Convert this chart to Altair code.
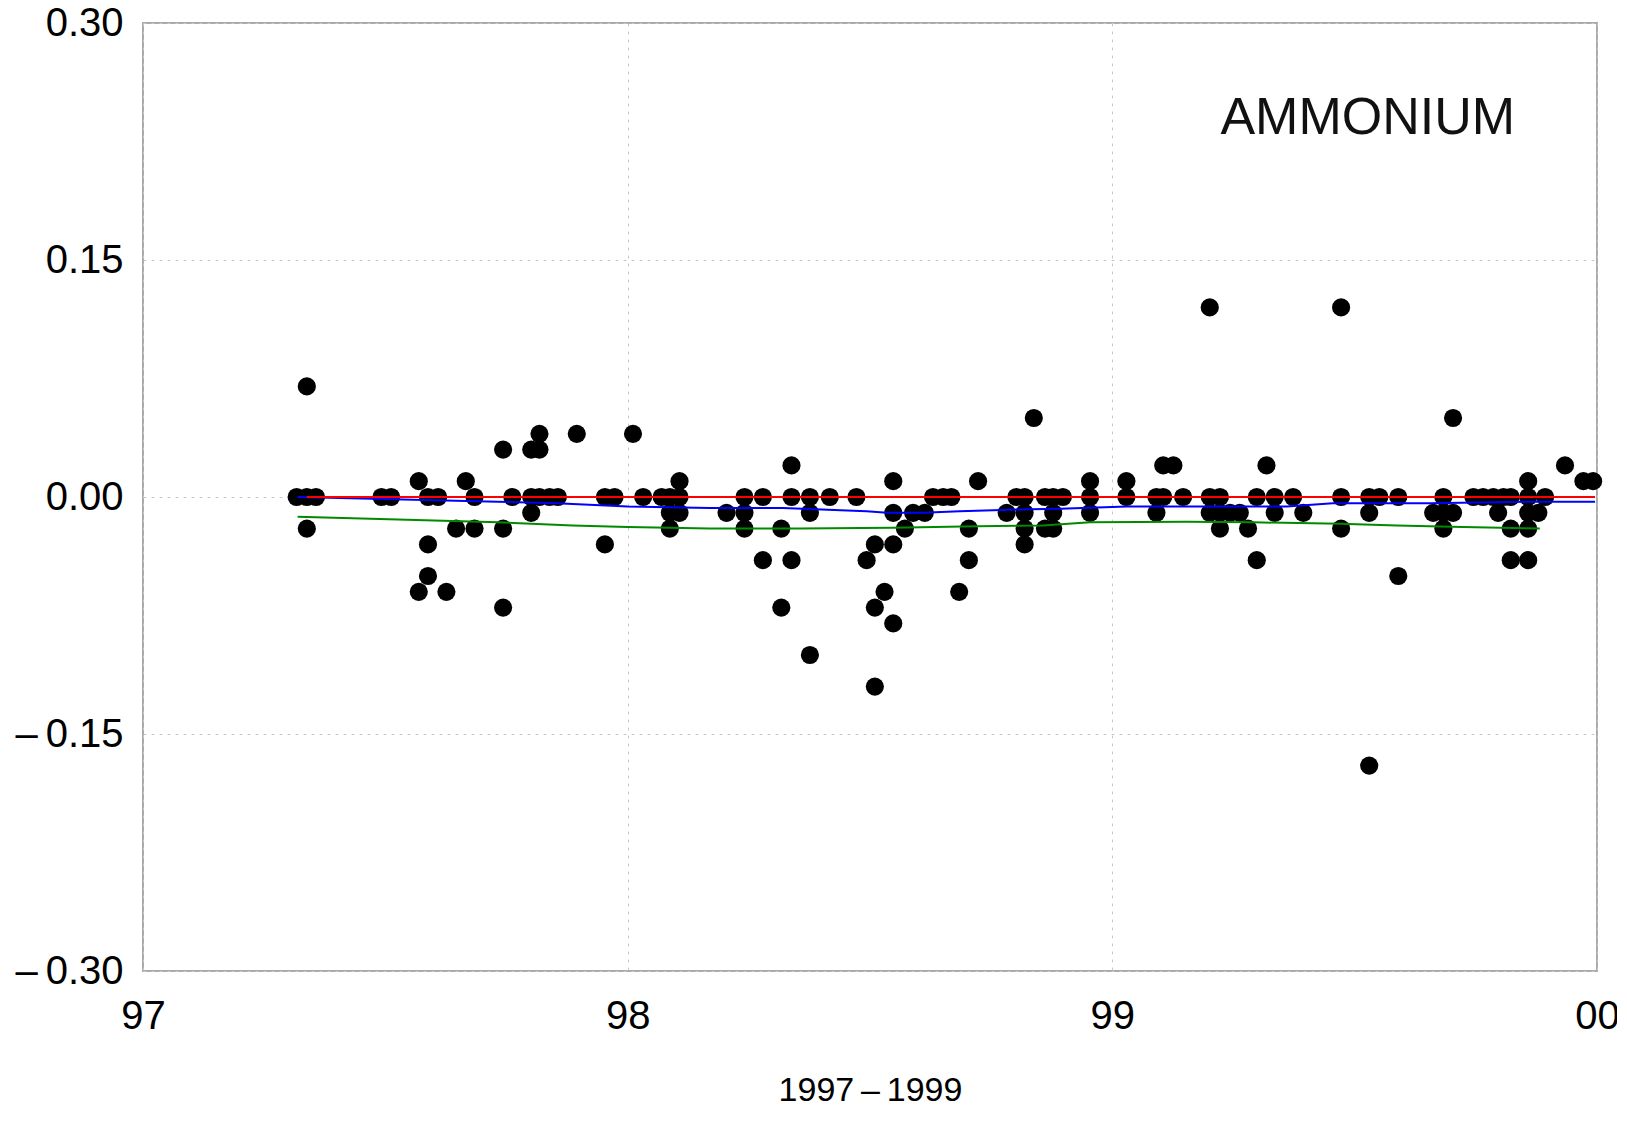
import altair as alt
import pandas as pd

# ---- data ----
sample_year = [97.317, 97.338, 97.357, 97.492, 97.512, 97.569, 97.588, 97.609, 97.626, 97.646,
               97.666, 97.684, 97.743, 97.762, 97.801, 97.818, 97.839, 97.856, 97.895, 97.953,
               97.973, 98.011, 98.032, 98.070, 98.087, 98.107, 98.204, 98.241, 98.279, 98.317,
               98.338, 98.376, 98.417, 98.472, 98.493, 98.510, 98.530, 98.548, 98.572, 98.589,
               98.613, 98.630, 98.651, 98.668, 98.684, 98.704, 98.723, 98.782, 98.802, 98.819,
               98.838, 98.861, 98.878, 98.898, 98.954, 99.029, 99.091, 99.105, 99.126, 99.146,
               99.201, 99.222, 99.243, 99.263, 99.280, 99.298, 99.318, 99.335, 99.373, 99.394,
               99.472, 99.530, 99.551, 99.590, 99.662, 99.683, 99.703, 99.745, 99.765, 99.786,
               99.796, 99.807, 99.822, 99.858, 99.879, 99.893, 99.934, 99.972, 99.992]
sample_vals = [[0], [0, 0.07, -0.02], [0], [0], [0], [0.01, -0.06], [0, -0.03, -0.05], [0], [-0.06], [-0.02],
               [0.01], [0, -0.02], [0.03, -0.02, -0.07], [0], [0, -0.01, 0.03], [0, 0.03, 0.04], [0], [0], [0.04], [0, -0.03],
               [0], [0.04], [0], [0], [0, -0.01, -0.02], [0, 0.01, -0.01], [-0.01], [0, -0.01, -0.02], [0, -0.04], [-0.02, -0.07],
               [0.02, 0, -0.04], [0, -0.01, -0.10], [0], [0], [-0.04], [-0.03, -0.07, -0.12], [-0.06], [0.01, -0.01, -0.03, -0.08], [-0.02], [-0.01],
               [-0.01], [0], [0], [0], [-0.06], [-0.02, -0.04], [0.01], [-0.01], [0], [0, -0.01, -0.02, -0.03],
               [0.05], [0, -0.02], [0, -0.01, -0.02], [0], [0.01, 0, -0.01], [0.01, 0], [0, -0.01], [0.02, 0], [0.02], [0],
               [0.12, 0, -0.01], [0, -0.01, -0.02], [-0.01], [-0.01], [-0.02], [0, -0.04], [0.02], [0, -0.01], [0], [-0.01],
               [0.12, 0, -0.02], [0, -0.01, -0.17], [0], [0, -0.05], [-0.01], [0, -0.01, -0.02], [0.05, -0.01], [0], [0], [0],
               [-0.01], [0], [0, -0.02, -0.04], [0.01, 0, -0.01, -0.02, -0.04], [-0.01], [0], [0.02], [0.01], [0.01]]

red_year = [97.338, 99.996]
red_val = [0.0, 0.0]

blue_year = [97.319, 97.732, 97.853, 98.000, 98.169, 98.320, 98.493, 98.535, 98.609, 98.685,
             98.789, 98.892, 99.030, 99.222, 99.360, 99.455, 99.655, 99.862, 99.996]
blue_val = [0.0, -0.003, -0.004, -0.006, -0.007, -0.007, -0.009, -0.010, -0.010, -0.009,
            -0.008, -0.0075, -0.006, -0.006, -0.006, -0.004, -0.004, -0.003, -0.003]

green_year = [97.319, 97.488, 97.732, 97.886, 98.000, 98.169, 98.355, 98.547, 98.720, 98.857,
              98.954, 99.154, 99.290, 99.470, 99.587, 99.723, 99.882]
green_val = [-0.0125, -0.014, -0.016, -0.018, -0.019, -0.020, -0.020, -0.0195, -0.0185, -0.018,
             -0.016, -0.0157, -0.016, -0.017, -0.018, -0.019, -0.020]

y_ticks = [-0.30, -0.15, 0.0, 0.15, 0.30]
x_ticks = [97, 98, 99, 100]
label_text = ["AMMONIUM"]
label_year = [99.527]
label_val = [0.240]

# ---- tables ----
points = pd.DataFrame(
    [{"year": y, "value": v} for y, vs in zip(sample_year, sample_vals) for v in vs]
)
lines = pd.concat([
    pd.DataFrame({"year": green_year, "value": green_val, "series": "green", "order": 0}),
    pd.DataFrame({"year": blue_year, "value": blue_val, "series": "blue", "order": 1}),
    pd.DataFrame({"year": red_year, "value": red_val, "series": "red", "order": 2}),
])
labels = pd.DataFrame({"year": label_year, "value": label_val, "text": label_text})

FONT = "Liberation Sans"

x_enc = alt.X(
    "year:Q",
    scale=alt.Scale(domain=[97, 100], nice=False, zero=False),
    axis=alt.Axis(
        values=x_ticks,
        labelExpr="datum.value == 100 ? '00' : format(datum.value, 'd')",
        title="1997\u2009–\u20091999",
        titleFontSize=34,
        titleFontWeight="normal",
        titlePadding=37,
        labelFontSize=40,
        labelPadding=25,
        ticks=False,
        domain=False,
        grid=True,
        labelFlush=False,
    ),
)
y_enc = alt.Y(
    "value:Q",
    scale=alt.Scale(domain=[-0.30, 0.30], nice=False, zero=False),
    axis=alt.Axis(
        values=y_ticks,
        labelExpr="datum.value < 0 ? '–\u2009' + format(-datum.value, '.2f') : format(datum.value, '.2f')",
        title=None,
        labelFontSize=40,
        labelPadding=20,
        ticks=False,
        domain=False,
        grid=True,
        labelFlush=False,
    ),
)

pts = alt.Chart(points).mark_circle(size=330, color="black", opacity=1).encode(x=x_enc, y=y_enc)

lns = alt.Chart(lines).mark_line(strokeWidth=2).encode(
    x="year:Q",
    y="value:Q",
    color=alt.Color(
        "series:N",
        scale=alt.Scale(domain=["red", "blue", "green"], range=["#ff0000", "#0000ff", "#008a00"]),
        legend=None,
    ),
    detail="series:N",
    order="order:Q",
)

txt = alt.Chart(labels).mark_text(
    fontSize=52, font=FONT, color="#111111", align="center", baseline="middle"
).encode(x="year:Q", y="value:Q", text="text:N")

chart = (
    alt.layer(pts, lns, txt)
    .properties(
        width=1454,
        height=948,
        autosize=alt.AutoSizeParams(type="none"),
        padding={"left": 135, "top": 15, "right": 20, "bottom": 136},
        background="white",
    )
    .configure_view(stroke="#aaaaaa", strokeWidth=2)
    .configure_axis(
        labelFont=FONT,
        titleFont=FONT,
        labelColor="black",
        titleColor="black",
        gridColor="#c8c8c8",
        gridDash=[3, 5],
        gridWidth=1,
    )
)

chart.save("out.html", embed_options={"renderer": "svg", "actions": False})
